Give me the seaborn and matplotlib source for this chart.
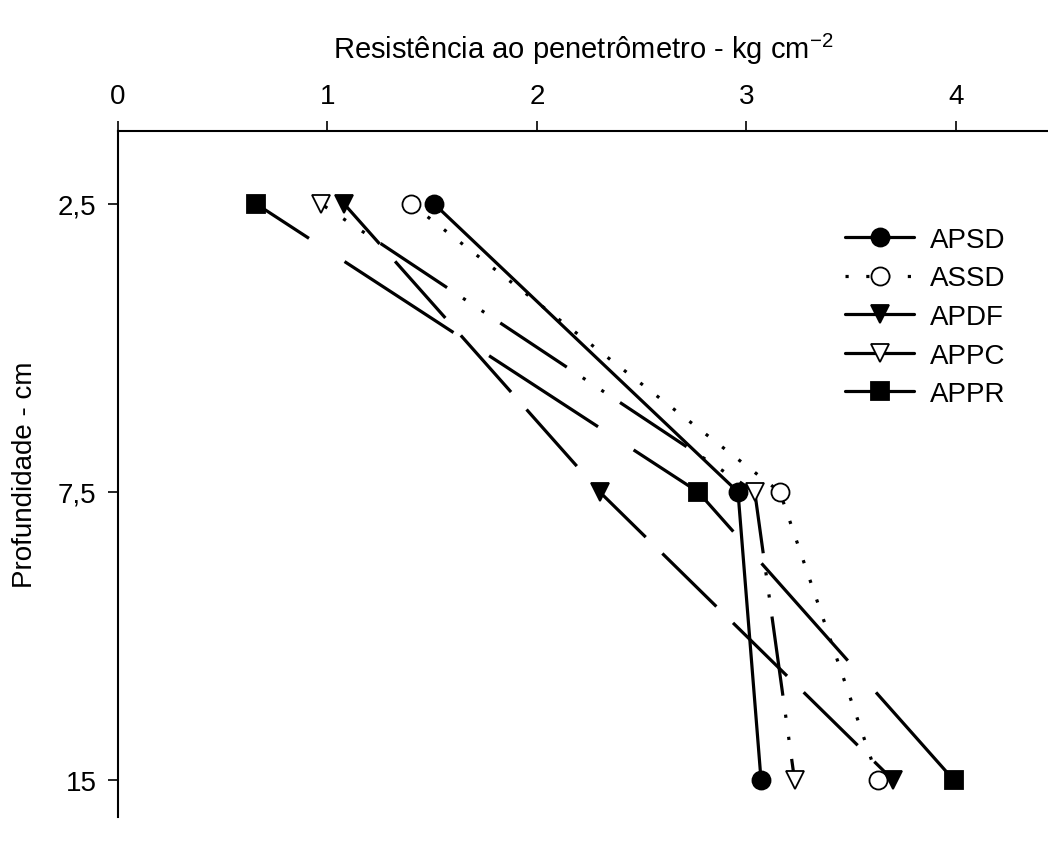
import numpy as np
import pandas as pd
import seaborn as sns
import matplotlib.pyplot as plt
from matplotlib.lines import Line2D

# depth classes (cm) and penetrometer resistance (kg cm-2)
depths = ["2,5", "7,5", "15"]
apsd = [1.51, 2.96, 3.07]
assd = [1.40, 3.16, 3.63]
apdf = [1.08, 2.30, 3.70]
appc = [0.97, 3.04, 3.23]
appr = [0.66, 2.77, 3.99]

sns.set_style("white")
plt.rcParams['font.family'] = ['Liberation Sans', 'DejaVu Sans']
plt.rcParams.update({"text.color": "black", "axes.labelcolor": "black",
                     "xtick.color": "black", "ytick.color": "black"})
FS = 20

fig = plt.figure(figsize=(10.48, 8.45), dpi=100)
# axes box in pixels: left 118, top 132, bottom 818, right edge of figure
ax = fig.add_axes([118 / 1048, 1 - 818 / 845, 930 / 1048, 686 / 845])

pos = np.arange(len(depths))
series = [
    ("APSD", apsd, "o", "black", "-"),
    ("ASSD", assd, "o", "white", (0, (1, 5.5))),
    ("APDF", apdf, "v", "black", (7, (23.7, 7.3))),
    ("APPC", appc, "v", "white", (22.7, (25, 6, 1, 6, 1, 6))),
    ("APPR", appr, "s", "black", (21, (40.7, 13.3))),
]

handles = []
for name, vals, mk, fc, ls in series:
    df = pd.DataFrame({"x": vals, "y": pos})
    sns.lineplot(data=df, x="x", y="y", sort=False, ax=ax, color="black",
                 linestyle=ls, linewidth=2.3, marker=mk, markersize=13,
                 markerfacecolor=fc, markeredgecolor="black",
                 markeredgewidth=1.3)
    handles.append(Line2D([], [], color="black",
                          linestyle=(0, (1, 5.5)) if name == "ASSD" else "-",
                          linewidth=2.3, marker=mk, markersize=13,
                          markerfacecolor=fc, markeredgecolor="black",
                          markeredgewidth=1.3, label=name))

ax.set_xlim(0, 4.44)
ax.set_ylim((818 - 205) / 288, (132 - 205) / 288)
ax.set_yticks(pos)
ax.set_yticklabels(depths)
ax.set_xticks([0, 1, 2, 3, 4])
ax.xaxis.tick_top()
ax.xaxis.set_label_position("top")
ax.set_xlabel("Resistência ao penetrômetro - kg cm$^{\\mathregular{-2}}$", fontsize=FS + 1, labelpad=18)
ax.set_ylabel("Profundidade - cm", fontsize=FS, labelpad=14)
ax.tick_params(axis="both", labelsize=FS, direction="out", length=7.5, width=1.2,
               color="black", bottom=False, right=False, top=True, left=True, pad=8)

for s in ["right", "bottom"]:
    ax.spines[s].set_visible(False)
for s in ["top", "left"]:
    ax.spines[s].set_color("black")
    ax.spines[s].set_linewidth(1.5)

ax.legend(handles=handles, loc="upper left", bbox_to_anchor=(845 / 1048, 1 - 228 / 845),
          bbox_transform=fig.transFigure, frameon=False, fontsize=FS,
          borderpad=0, borderaxespad=0,
          handlelength=2.5, labelspacing=0.45, handletextpad=0.55)

fig.savefig("out.png", dpi=100)
